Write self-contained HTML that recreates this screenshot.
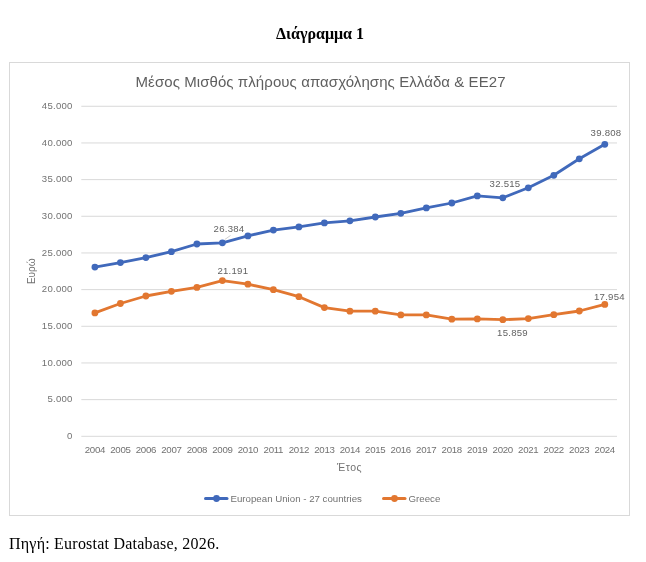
<!DOCTYPE html>
<html><head><meta charset="utf-8"><style>
html,body{margin:0;padding:0;background:#fff;width:646px;height:562px;overflow:hidden}
svg{display:block;will-change:transform}
.ax{font-family:"Liberation Sans", sans-serif;font-size:9.6px;fill:#727272;letter-spacing:0.25px}
.yr{font-family:"Liberation Sans", sans-serif;font-size:9.7px;fill:#727272;letter-spacing:-0.3px}
.dl{font-family:"Liberation Sans", sans-serif;font-size:9.6px;fill:#626262;letter-spacing:0.25px}
.ti{font-family:"Liberation Sans", sans-serif;font-size:15px;fill:#5f5f5f;letter-spacing:0.075px}
.at{font-family:"Liberation Sans", sans-serif;font-size:10.5px;fill:#727272;letter-spacing:0.5px}
.at2{font-family:"Liberation Sans", sans-serif;font-size:10px;fill:#727272}
.lg{font-family:"Liberation Sans", sans-serif;font-size:9.7px;fill:#727272}
.h{font-family:"Liberation Serif", serif;font-size:16px;font-weight:bold;fill:#000}
.cap{font-family:"Liberation Serif", serif;font-size:16px;fill:#000;letter-spacing:0.22px}
</style></head><body>
<svg width="646" height="562" viewBox="0 0 646 562">
<rect x="9.5" y="62.5" width="620" height="453" fill="#fff" stroke="#d9d9d9" stroke-width="1"/>
<line x1="81.3" y1="436.3" x2="617" y2="436.3" stroke="#d9d9d9" stroke-width="1"/>
<line x1="81.3" y1="399.63" x2="617" y2="399.63" stroke="#d9d9d9" stroke-width="1"/>
<line x1="81.3" y1="362.96" x2="617" y2="362.96" stroke="#d9d9d9" stroke-width="1"/>
<line x1="81.3" y1="326.29" x2="617" y2="326.29" stroke="#d9d9d9" stroke-width="1"/>
<line x1="81.3" y1="289.62" x2="617" y2="289.62" stroke="#d9d9d9" stroke-width="1"/>
<line x1="81.3" y1="252.95" x2="617" y2="252.95" stroke="#d9d9d9" stroke-width="1"/>
<line x1="81.3" y1="216.28" x2="617" y2="216.28" stroke="#d9d9d9" stroke-width="1"/>
<line x1="81.3" y1="179.61" x2="617" y2="179.61" stroke="#d9d9d9" stroke-width="1"/>
<line x1="81.3" y1="142.94" x2="617" y2="142.94" stroke="#d9d9d9" stroke-width="1"/>
<line x1="81.3" y1="106.27" x2="617" y2="106.27" stroke="#d9d9d9" stroke-width="1"/>
<text x="72.7" y="438.8" text-anchor="end" class="ax">0</text>
<text x="72.7" y="402.1" text-anchor="end" class="ax">5.000</text>
<text x="72.7" y="365.5" text-anchor="end" class="ax">10.000</text>
<text x="72.7" y="328.8" text-anchor="end" class="ax">15.000</text>
<text x="72.7" y="292.1" text-anchor="end" class="ax">20.000</text>
<text x="72.7" y="255.5" text-anchor="end" class="ax">25.000</text>
<text x="72.7" y="218.8" text-anchor="end" class="ax">30.000</text>
<text x="72.7" y="182.1" text-anchor="end" class="ax">35.000</text>
<text x="72.7" y="145.5" text-anchor="end" class="ax">40.000</text>
<text x="72.7" y="108.8" text-anchor="end" class="ax">45.000</text>
<text x="94.9" y="453.2" text-anchor="middle" class="yr">2004</text>
<text x="120.4" y="453.2" text-anchor="middle" class="yr">2005</text>
<text x="145.9" y="453.2" text-anchor="middle" class="yr">2006</text>
<text x="171.4" y="453.2" text-anchor="middle" class="yr">2007</text>
<text x="196.9" y="453.2" text-anchor="middle" class="yr">2008</text>
<text x="222.4" y="453.2" text-anchor="middle" class="yr">2009</text>
<text x="247.9" y="453.2" text-anchor="middle" class="yr">2010</text>
<text x="273.4" y="453.2" text-anchor="middle" class="yr">2011</text>
<text x="298.9" y="453.2" text-anchor="middle" class="yr">2012</text>
<text x="324.4" y="453.2" text-anchor="middle" class="yr">2013</text>
<text x="349.9" y="453.2" text-anchor="middle" class="yr">2014</text>
<text x="375.3" y="453.2" text-anchor="middle" class="yr">2015</text>
<text x="400.8" y="453.2" text-anchor="middle" class="yr">2016</text>
<text x="426.3" y="453.2" text-anchor="middle" class="yr">2017</text>
<text x="451.8" y="453.2" text-anchor="middle" class="yr">2018</text>
<text x="477.3" y="453.2" text-anchor="middle" class="yr">2019</text>
<text x="502.8" y="453.2" text-anchor="middle" class="yr">2020</text>
<text x="528.3" y="453.2" text-anchor="middle" class="yr">2021</text>
<text x="553.8" y="453.2" text-anchor="middle" class="yr">2022</text>
<text x="579.3" y="453.2" text-anchor="middle" class="yr">2023</text>
<text x="604.8" y="453.2" text-anchor="middle" class="yr">2024</text>
<polyline points="94.9,267.1 120.4,262.6 145.9,257.6 171.4,251.7 196.9,244.0 222.4,242.8 247.9,235.9 273.4,230.1 298.9,226.9 324.4,222.9 349.9,220.8 375.3,217.0 400.8,213.3 426.3,207.9 451.8,203.0 477.3,195.9 502.8,197.8 528.3,187.8 553.8,175.3 579.3,158.8 604.8,144.3" fill="none" stroke="#4069bb" stroke-width="2.8" stroke-linejoin="round" stroke-linecap="round"/><circle cx="94.9" cy="267.1" r="3.4" fill="#4069bb"/><circle cx="120.4" cy="262.6" r="3.4" fill="#4069bb"/><circle cx="145.9" cy="257.6" r="3.4" fill="#4069bb"/><circle cx="171.4" cy="251.7" r="3.4" fill="#4069bb"/><circle cx="196.9" cy="244.0" r="3.4" fill="#4069bb"/><circle cx="222.4" cy="242.8" r="3.4" fill="#4069bb"/><circle cx="247.9" cy="235.9" r="3.4" fill="#4069bb"/><circle cx="273.4" cy="230.1" r="3.4" fill="#4069bb"/><circle cx="298.9" cy="226.9" r="3.4" fill="#4069bb"/><circle cx="324.4" cy="222.9" r="3.4" fill="#4069bb"/><circle cx="349.9" cy="220.8" r="3.4" fill="#4069bb"/><circle cx="375.3" cy="217.0" r="3.4" fill="#4069bb"/><circle cx="400.8" cy="213.3" r="3.4" fill="#4069bb"/><circle cx="426.3" cy="207.9" r="3.4" fill="#4069bb"/><circle cx="451.8" cy="203.0" r="3.4" fill="#4069bb"/><circle cx="477.3" cy="195.9" r="3.4" fill="#4069bb"/><circle cx="502.8" cy="197.8" r="3.4" fill="#4069bb"/><circle cx="528.3" cy="187.8" r="3.4" fill="#4069bb"/><circle cx="553.8" cy="175.3" r="3.4" fill="#4069bb"/><circle cx="579.3" cy="158.8" r="3.4" fill="#4069bb"/><circle cx="604.8" cy="144.3" r="3.4" fill="#4069bb"/>
<polyline points="94.9,312.9 120.4,303.5 145.9,296.0 171.4,291.3 196.9,287.4 222.4,280.6 247.9,284.2 273.4,289.7 298.9,296.7 324.4,307.6 349.9,311.2 375.3,311.2 400.8,314.9 426.3,314.9 451.8,319.2 477.3,318.9 502.8,319.7 528.3,318.6 553.8,314.7 579.3,311.0 604.8,304.4" fill="none" stroke="#e27730" stroke-width="2.8" stroke-linejoin="round" stroke-linecap="round"/><circle cx="94.9" cy="312.9" r="3.4" fill="#e27730"/><circle cx="120.4" cy="303.5" r="3.4" fill="#e27730"/><circle cx="145.9" cy="296.0" r="3.4" fill="#e27730"/><circle cx="171.4" cy="291.3" r="3.4" fill="#e27730"/><circle cx="196.9" cy="287.4" r="3.4" fill="#e27730"/><circle cx="222.4" cy="280.6" r="3.4" fill="#e27730"/><circle cx="247.9" cy="284.2" r="3.4" fill="#e27730"/><circle cx="273.4" cy="289.7" r="3.4" fill="#e27730"/><circle cx="298.9" cy="296.7" r="3.4" fill="#e27730"/><circle cx="324.4" cy="307.6" r="3.4" fill="#e27730"/><circle cx="349.9" cy="311.2" r="3.4" fill="#e27730"/><circle cx="375.3" cy="311.2" r="3.4" fill="#e27730"/><circle cx="400.8" cy="314.9" r="3.4" fill="#e27730"/><circle cx="426.3" cy="314.9" r="3.4" fill="#e27730"/><circle cx="451.8" cy="319.2" r="3.4" fill="#e27730"/><circle cx="477.3" cy="318.9" r="3.4" fill="#e27730"/><circle cx="502.8" cy="319.7" r="3.4" fill="#e27730"/><circle cx="528.3" cy="318.6" r="3.4" fill="#e27730"/><circle cx="553.8" cy="314.7" r="3.4" fill="#e27730"/><circle cx="579.3" cy="311.0" r="3.4" fill="#e27730"/><circle cx="604.8" cy="304.4" r="3.4" fill="#e27730"/>
<line x1="224.8" y1="239.5" x2="230.5" y2="235.5" stroke="#bfbfbf" stroke-width="0.75"/>
<text x="229" y="232.4" text-anchor="middle" class="dl">26.384</text>
<text x="232.8" y="274.2" text-anchor="middle" class="dl">21.191</text>
<text x="505" y="187.4" text-anchor="middle" class="dl">32.515</text>
<text x="512.5" y="335.9" text-anchor="middle" class="dl">15.859</text>
<text x="606" y="135.6" text-anchor="middle" class="dl">39.808</text>
<text x="609.4" y="300.3" text-anchor="middle" class="dl">17.954</text>
<text x="320.6" y="86.6" text-anchor="middle" class="ti">Μέσος Μισθός πλήρους απασχόλησης Ελλάδα &amp; ΕΕ27</text>
<text x="349.6" y="471" text-anchor="middle" class="at">Έτος</text>
<text transform="translate(35.3,271.3) rotate(-90)" text-anchor="middle" class="at2">Ευρώ</text>
<line x1="205.5" y1="498.5" x2="227" y2="498.5" stroke="#4069bb" stroke-width="3" stroke-linecap="round"/><circle cx="216.5" cy="498.5" r="3.4" fill="#4069bb"/>
<text x="230.5" y="502" class="lg">European Union - 27 countries</text>
<line x1="383.5" y1="498.5" x2="405" y2="498.5" stroke="#e27730" stroke-width="3" stroke-linecap="round"/><circle cx="394.5" cy="498.5" r="3.4" fill="#e27730"/>
<text x="408.5" y="502" class="lg">Greece</text>
<text x="320" y="38.9" text-anchor="middle" class="h">Διάγραμμα 1</text>
<text x="9" y="548.6" class="cap">Πηγή: Eurostat Database, 2026.</text>
</svg>
</body></html>
